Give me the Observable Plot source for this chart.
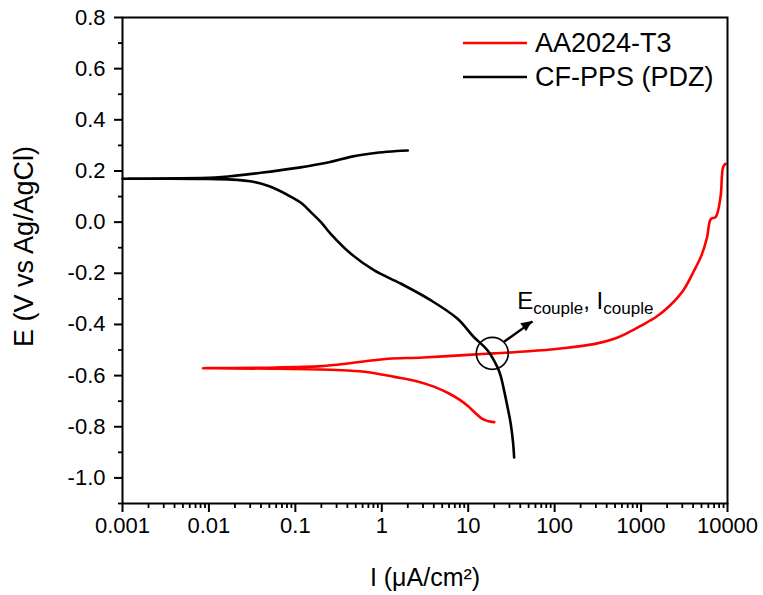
<!DOCTYPE html>
<html><head><meta charset="utf-8">
<script src="https://cdn.jsdelivr.net/npm/d3@7"></script>
<script src="https://cdn.jsdelivr.net/npm/@observablehq/plot@0.6"></script>
<style>
body{margin:0;background:#fff}
#chart{position:relative;width:763px;height:595px}
</style>
</head><body><div id="chart"></div>
<script>
// AA2024-T3 (red): cathodic end -> Ecorr -> anodic end
const redI = [20, 18, 16, 14, 12, 10, 8, 6, 4, 2.4, 1.4, 0.7, 0.4, 0.2, 0.05, 0.0085,
  0.05, 0.2, 0.4, 0.8, 1.2, 3, 10, 20, 50, 117, 285, 500, 700, 1000, 1500, 2100, 3100, 4100, 5000, 5800, 6400, 7300, 8300, 8900, 9500];
const redE = [-0.782, -0.780, -0.775, -0.765, -0.745, -0.720, -0.695, -0.670, -0.643, -0.620, -0.605, -0.587, -0.580, -0.576, -0.573, -0.571,
  -0.569, -0.563, -0.553, -0.540, -0.534, -0.529, -0.519, -0.513, -0.505, -0.494, -0.477, -0.455, -0.433, -0.405, -0.370, -0.330, -0.265, -0.190, -0.130, -0.060, 0.012, 0.020, 0.098, 0.215, 0.228];
// CF-PPS (PDZ) (black): cathodic end -> Ecorr -> anodic end
const blackI = [34, 33, 31, 28, 25.5, 23.7, 21.7, 16.6, 11.6, 7.48, 3.67, 1.65, 0.81, 0.436, 0.255, 0.2, 0.15, 0.12, 0.088, 0.05, 0.03, 0.01, 0.001,
  0.01, 0.014, 0.04, 0.11, 0.245, 0.45, 0.93, 1.5, 2];
const blackE = [-0.92, -0.86, -0.787, -0.71, -0.645, -0.60, -0.566, -0.50, -0.449, -0.377, -0.305, -0.24, -0.188, -0.123, -0.045, -0.002, 0.040, 0.072, 0.100, 0.140, 0.160, 0.169, 0.170,
  0.173, 0.176, 0.193, 0.213, 0.234, 0.256, 0.272, 0.278, 0.280];

const seriesNames = ["AA2024-T3", "CF-PPS (PDZ)"];
const seriesColors = ["#ff0000", "#000000"];

const xTicks = [0.001, 0.01, 0.1, 1, 10, 100, 1000, 10000];
const xTickLabels = ["0.001", "0.01", "0.1", "1", "10", "100", "1000", "10000"];
const yTicks = [-1.0, -0.8, -0.6, -0.4, -0.2, 0.0, 0.2, 0.4, 0.6, 0.8];
const yTickLabels = ["-1.0", "-0.8", "-0.6", "-0.4", "-0.2", "0.0", "0.2", "0.4", "0.6", "0.8"];
const yMinorTicks = [-1.1, -0.9, -0.7, -0.5, -0.3, -0.1, 0.1, 0.3, 0.5, 0.7];

// annotation: crossing point, arrow, label
const couplePoint = [19, -0.513];
const arrowFrom = [25.7, -0.469];
const arrowTo = [55.6, -0.388];
const labelAt = [37.3, -0.34];

const xMinorTicks = [];
for (let d = 0.001; d < 10000; d *= 10) for (let k = 2; k <= 9; k++) xMinorTicks.push(+(d * k).toPrecision(3));

const red = redI.map((v, i) => ({I: v, E: redE[i]}));
const black = blackI.map((v, i) => ({I: v, E: blackE[i]}));

const FONT = "'Liberation Sans', Arial, sans-serif";

const chart = Plot.plot({
  width: 763, height: 595,
  marginLeft: 122, marginRight: 36, marginTop: 17, marginBottom: 92,
  style: {fontFamily: FONT, fontSize: "22px", color: "#000", background: "#fff"},
  x: {type: "log", domain: [0.001, 10000], label: null},
  y: {domain: [-1.1, 0.8], label: null},
  marks: [
    Plot.line(red, {x: "I", y: "E", stroke: seriesColors[0], strokeWidth: 2.6, curve: "catmull-rom"}),
    Plot.line(black, {x: "I", y: "E", stroke: seriesColors[1], strokeWidth: 2.6, curve: "catmull-rom"}),
    Plot.dot([couplePoint], {x: d => d[0], y: d => d[1], r: 16, stroke: "#000", strokeWidth: 1.6, fill: "none"}),
    Plot.link([[arrowFrom, arrowTo]], {x1: d => d[0][0], y1: d => d[0][1], x2: d => d[1][0], y2: d => d[1][1], stroke: "#000", strokeWidth: 2.4}),
    Plot.frame({stroke: "#000", strokeWidth: 2}),
    Plot.axisX(xTicks, {tickSize: 9, tickPadding: 5, strokeWidth: 2, tickFormat: d => xTickLabels[xTicks.indexOf(d)], label: null}),
    Plot.axisX(xMinorTicks, {tickSize: 5, strokeWidth: 1.8, text: null, label: null}),
    Plot.axisY(yTicks, {tickSize: 8, tickPadding: 9, strokeWidth: 2, tickFormat: d => yTickLabels[yTicks.indexOf(d)], label: null}),
    Plot.axisY(yMinorTicks, {tickSize: 4, strokeWidth: 1.8, text: null, label: null}),
    Plot.text(["E (V vs Ag/AgCl)"], {frameAnchor: "left", rotate: -90, dx: -98, dy: -14, textAnchor: "middle", lineAnchor: "middle", fontSize: 27}),
    Plot.text(["I (μA/cm²)"], {frameAnchor: "bottom", dy: 74, textAnchor: "middle", lineAnchor: "middle", fontSize: 25})
  ]
});
document.getElementById("chart").appendChild(chart);

const svg = d3.select(chart);
const sx = chart.scale("x"), sy = chart.scale("y");
const X = v => sx.apply(v), Y = v => sy.apply(v);

// filled arrowhead
{
  const x1 = X(arrowFrom[0]), y1 = Y(arrowFrom[1]), x2 = X(arrowTo[0]), y2 = Y(arrowTo[1]);
  const a = Math.atan2(y2 - y1, x2 - x1), L = 11, W = 5;
  const bx = x2 - L * Math.cos(a), by = y2 - L * Math.sin(a);
  const px = -Math.sin(a), py = Math.cos(a);
  svg.append("path")
    .attr("d", `M${x2},${y2}L${bx + W * px},${by + W * py}L${bx - W * px},${by - W * py}Z`)
    .attr("fill", "#000");
}
// annotation label with subscripts
{
  const t = svg.append("text").attr("x", X(labelAt[0])).attr("y", Y(labelAt[1]))
    .attr("text-anchor", "start")
    .attr("font-family", FONT).attr("font-size", 24).attr("fill", "#000");
  t.append("tspan").text("E");
  t.append("tspan").attr("font-size", 17).attr("dy", 5).text("couple");
  t.append("tspan").attr("dy", -5).text(", I");
  t.append("tspan").attr("font-size", 17).attr("dy", 5).text("couple");
}
// legend
{
  const lx = 463, ly = [43, 77];
  seriesNames.forEach((name, i) => {
    svg.append("line").attr("x1", lx).attr("x2", lx + 64).attr("y1", ly[i]).attr("y2", ly[i])
      .attr("stroke", seriesColors[i]).attr("stroke-width", 2.6);
    svg.append("text").attr("x", lx + 72).attr("y", ly[i]).attr("dy", "0.35em")
      .attr("text-anchor", "start")
      .attr("font-family", FONT).attr("font-size", 27).attr("fill", "#000").text(name);
  });
}
</script>
</body></html>
